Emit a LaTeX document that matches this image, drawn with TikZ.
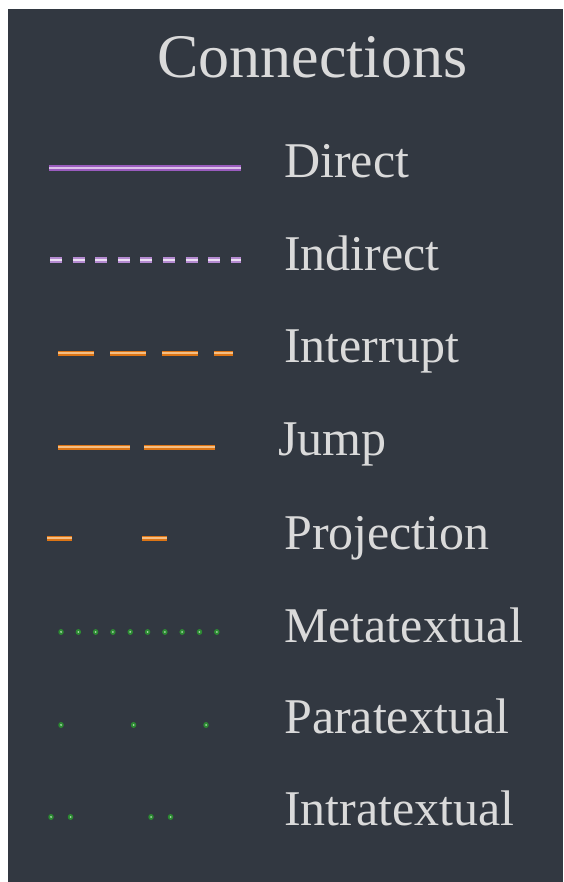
\documentclass[tikz,border=0pt]{standalone}
\usepackage{fontspec}
\setmainfont{Liberation Serif}
\definecolor{panel}{HTML}{323841}
\definecolor{ink}{HTML}{DADADA}
\definecolor{violet}{HTML}{9A5CBE}
\definecolor{violetlt}{HTML}{DCC0EA}
\definecolor{lilac}{HTML}{B48AD0}
\definecolor{lilaclt}{HTML}{EBDDF3}
\definecolor{amber}{HTML}{DC7414}
\definecolor{amberlt}{HTML}{F4BE84}
\definecolor{leaf}{HTML}{2C8A32}
\definecolor{leaflt}{HTML}{A9D9A8}
\tikzset{
  label/.style={anchor=base west, inner sep=0pt, text=ink, font=\fontsize{50}{50}\selectfont},
  title/.style={anchor=base west, inner sep=0pt, text=ink, font=\fontsize{62}{62}\selectfont},
  direct/.style={line width=5.5pt, violet},
  directcore/.style={line width=1.6pt, violetlt},
  indirect/.style={line width=6pt, lilac, dash pattern=on 12pt off 10.6pt},
  indirectcore/.style={line width=2pt, lilaclt, dash pattern=on 12pt off 10.6pt},
  interrupt/.style={line width=5pt, amber, dash pattern=on 36pt off 16pt},
  interruptcore/.style={line width=1.2pt, amberlt, dash pattern=on 36pt off 16pt},
  jump/.style={line width=5pt, amber, dash pattern=on 72pt off 14pt},
  jumpcore/.style={line width=1.2pt, amberlt, dash pattern=on 72pt off 14pt},
  projection/.style={line width=5pt, amber, dash pattern=on 25pt off 70pt},
  projectioncore/.style={line width=1.2pt, amberlt, dash pattern=on 25pt off 70pt},
  dotglow/.style={line width=5.5pt, leaf, line cap=round},
  dotcore/.style={line width=2pt, leaflt, line cap=round},
}
\begin{document}
\begin{tikzpicture}[x=1pt, y=-1pt]
  % page and dark panel
  \useasboundingbox (0,0) rectangle (563,882);
  \fill[white] (0,0) rectangle (563,882);
  \fill[panel] (8,9) rectangle (563,882);

  % heading
  \node[title] (head) at (157,78) {Connections};

  % legend labels
  \node[label] (lDirect) at (284,178) {Direct};
  \node[label] (lIndirect) at (284,270) {Indirect};
  \node[label] (lInterrupt) at (284,362) {Interrupt};
  \node[label] (lJump) at (278,455) {Jump};
  \node[label] (lProjection) at (284,549) {Projection};
  \node[label] (lMeta) at (284,642) {Metatextual};
  \node[label] (lPara) at (284,733) {Paratextual};
  \node[label] (lIntra) at (284,825) {Intratextual};

  % sample stroke end points
  \coordinate (d1) at (49,168);  \coordinate (d2) at (241,168);
  \coordinate (i1) at (50,260);  \coordinate (i2) at (241,260);
  \coordinate (r1) at (58,353);  \coordinate (r2) at (233,353);
  \coordinate (j1) at (58,447);  \coordinate (j2) at (215,447);
  \coordinate (p1) at (47,538);  \coordinate (p2) at (167,538);
  \coordinate (m1) at (61,632);  \coordinate (m2) at (218,632);
  \coordinate (a1) at (61,725);  \coordinate (a2) at (208,725);
  \coordinate (t1) at (51,817);  \coordinate (t2) at (173,817);

  % purple strokes
  \draw[direct] (d1) -- (d2);
  \draw[directcore] (d1) -- (d2);
  \draw[indirect] (i1) -- (i2);
  \draw[indirectcore] (i1) -- (i2);

  % orange strokes
  \draw[interrupt] (r1) -- (r2);
  \draw[interruptcore] (r1) -- (r2);
  \draw[jump] (j1) -- (j2);
  \draw[jumpcore] (j1) -- (j2);
  \draw[projection] (p1) -- (p2);
  \draw[projectioncore] (p1) -- (p2);

  % green dotted strokes
  \draw[dotglow, dash pattern=on 0.01pt off 17.3pt] (m1) -- (m2);
  \draw[dotcore, dash pattern=on 0.01pt off 17.3pt] (m1) -- (m2);
  \draw[dotglow, dash pattern=on 0.01pt off 72.5pt] (a1) -- (a2);
  \draw[dotcore, dash pattern=on 0.01pt off 72.5pt] (a1) -- (a2);
  \draw[dotglow, dash pattern=on 0.01pt off 19.5pt on 0.01pt off 80.5pt] (t1) -- (t2);
  \draw[dotcore, dash pattern=on 0.01pt off 19.5pt on 0.01pt off 80.5pt] (t1) -- (t2);
\end{tikzpicture}
\end{document}
